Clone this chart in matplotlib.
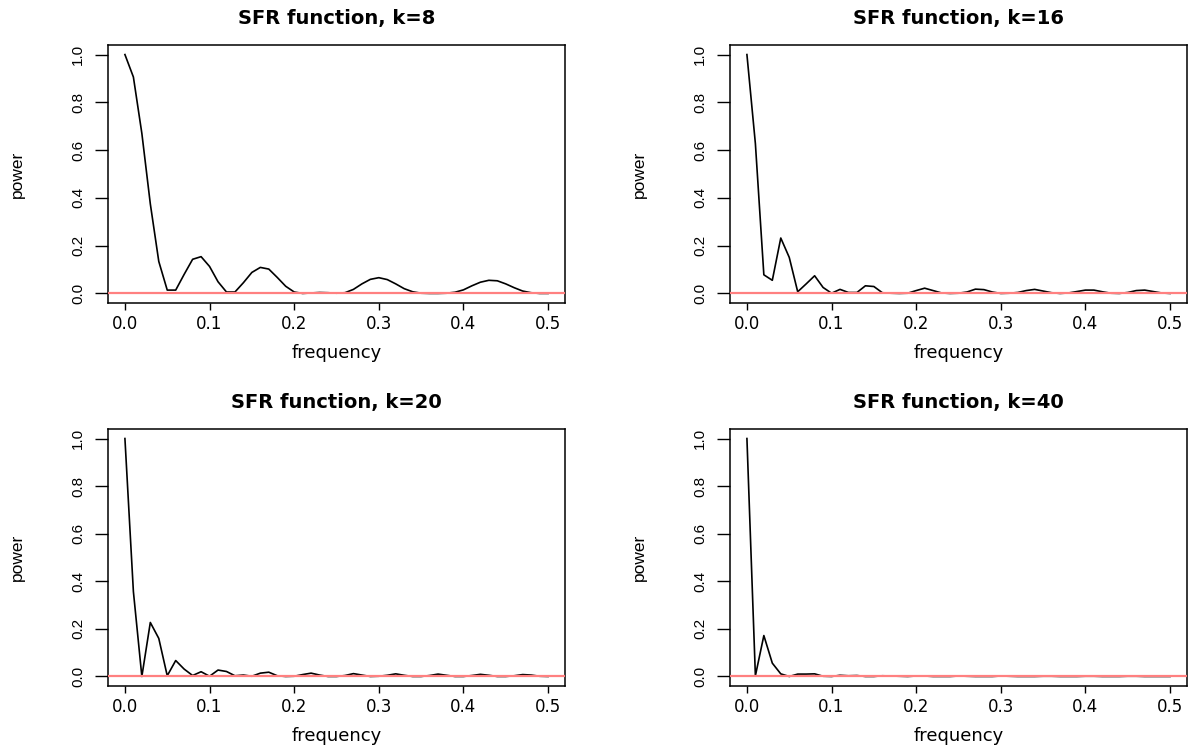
import numpy as np
from matplotlib import pyplot as plt

# frequency grid, 0 .. 0.5 by 0.01
freq = np.round(np.arange(51) * 0.01, 2)

k8 = [1.0, 0.906, 0.67, 0.375, 0.134, 0.014, 0.014, 0.08, 0.143, 0.154,
      0.113, 0.049, 0.006, 0.006, 0.045, 0.088, 0.109, 0.102, 0.067, 0.03,
      0.006, 0.0, 0.002, 0.004, 0.003, 0.001, 0.003, 0.017, 0.04, 0.059,
      0.066, 0.058, 0.04, 0.02, 0.007, 0.001, 0.0, 0.0, 0.001, 0.005,
      0.015, 0.032, 0.047, 0.055, 0.053, 0.04, 0.024, 0.01, 0.003, 0.0, 0.0]
k16 = [1.0, 0.627, 0.078, 0.055, 0.232, 0.151, 0.007, 0.04, 0.074, 0.025,
       0.001, 0.017, 0.004, 0.004, 0.032, 0.029, 0.003, 0.001, 0.0, 0.001,
       0.012, 0.022, 0.012, 0.002, 0.0, 0.001, 0.006, 0.018, 0.016, 0.006,
       0.0, 0.001, 0.004, 0.012, 0.017, 0.01, 0.003, 0.0, 0.002, 0.008,
       0.014, 0.014, 0.007, 0.001, 0.0, 0.004, 0.012, 0.014, 0.008, 0.002, 0.0]
k20 = [1.0, 0.357, 0.0, 0.227, 0.16, 0.003, 0.067, 0.031, 0.004, 0.02,
       0.001, 0.027, 0.021, 0.003, 0.006, 0.001, 0.014, 0.018, 0.003, 0.0,
       0.001, 0.008, 0.014, 0.006, 0.0, 0.0, 0.004, 0.012, 0.006, 0.0,
       0.001, 0.005, 0.011, 0.005, 0.0, 0.0, 0.004, 0.01, 0.005, 0.0,
       0.0, 0.004, 0.009, 0.005, 0.0, 0.0, 0.003, 0.008, 0.006, 0.001, 0.0]
k40 = [1.0, 0.003, 0.172, 0.056, 0.011, 0.0, 0.01, 0.01, 0.011, 0.001,
       0.0, 0.005, 0.003, 0.004, 0.0, 0.0, 0.003, 0.002, 0.001, 0.0,
       0.002, 0.002, 0.0, 0.0, 0.0, 0.002, 0.001, 0.0, 0.0, 0.0,
       0.002, 0.001, 0.0, 0.0, 0.0, 0.001, 0.001, 0.0, 0.0, 0.0,
       0.001, 0.001, 0.0, 0.0, 0.0, 0.001, 0.001, 0.0, 0.0, 0.0, 0.0]

ks = [8, 16, 20, 40]
series = [k8, k16, k20, k40]

xticks = [0.0, 0.1, 0.2, 0.3, 0.4, 0.5]
xticklabels = ["0.0", "0.1", "0.2", "0.3", "0.4", "0.5"]
yticks = [0.0, 0.2, 0.4, 0.6, 0.8, 1.0]
yticklabels = ["0.0", "0.2", "0.4", "0.6", "0.8", "1.0"]

NARROW = ["Liberation Sans Narrow", "Liberation Sans"]

W, H = 1195, 749
fig = plt.figure(figsize=(W / 100, H / 100), dpi=100)

# panel boxes in pixels: left, top, right, bottom
boxes = [(108, 45, 565, 303), (730, 45, 1187, 303),
         (108, 429, 565, 686), (730, 429, 1187, 686)]

for (l, t, r, b), k, y in zip(boxes, ks, series):
    ax = fig.add_axes([l / W, 1 - b / H, (r - l) / W, (b - t) / H])
    ax.plot(freq, y, color="black", lw=1.2)
    ax.axhline(0, color="#ff8080", lw=1.6, zorder=3)
    ax.set_xlim(-0.02, 0.52)
    ax.set_ylim(-0.04, 1.04)
    ax.set_xticks(xticks)
    ax.set_xticklabels(xticklabels, family="DejaVu Sans", fontsize=12)
    ax.set_yticks(yticks)
    ax.set_yticklabels(yticklabels, family=NARROW, fontsize=11,
                       rotation=90, va="center")
    ax.tick_params(axis="x", length=5, width=1, pad=3.5)
    ax.tick_params(axis="y", length=9.5, width=1, pad=7)
    for s in ax.spines.values():
        s.set_linewidth(1.1)
    ax.set_title("SFR function, k=%d" % k, family="DejaVu Sans",
                 fontweight="bold", fontsize=14, pad=15)
    ax.set_xlabel("frequency", family="DejaVu Sans", fontsize=13, labelpad=8)
    ax.set_ylabel("power", family=NARROW, fontsize=12.5, labelpad=33)

fig.savefig("out.png", dpi=100)
